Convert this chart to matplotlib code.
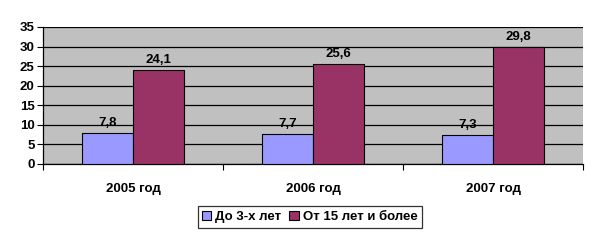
import matplotlib.pyplot as plt
import numpy as np

plt.rcParams['font.family'] = ['Liberation Sans', 'DejaVu Sans']
plt.rcParams['font.weight'] = 'bold'

years = ['2005 год', '2006 год', '2007 год']
under3 = [7.8, 7.7, 7.3]
over15 = [24.1, 25.6, 29.8]
labels = ['До 3-х лет', 'От 15 лет и более']

fs = 9.5

fig = plt.figure(figsize=(5.98, 2.41), dpi=100)
ax = fig.add_axes([0.072, 0.32, 0.903, 0.568])
ax.set_facecolor('#C0C0C0')

x = np.arange(len(years))
w = 0.283
b1 = ax.bar(x - w/2, under3, w, color='#9999FF', edgecolor='black', linewidth=0.8, label=labels[0], zorder=3)
b2 = ax.bar(x + w/2, over15, w, color='#993366', edgecolor='black', linewidth=0.8, label=labels[1], zorder=3)

for bars, vals in [(b1, under3), (b2, over15)]:
    for r, v in zip(bars, vals):
        ax.text(r.get_x() + r.get_width()/2, v + 1.0, str(v).replace('.', ','),
                ha='center', va='bottom', fontsize=fs, fontweight='bold')

ax.set_xlim(-0.5, 2.5)
ax.set_ylim(0, 35)
ax.set_yticks(range(0, 36, 5))
ax.yaxis.grid(True, color='black', linewidth=0.9, zorder=0)
ax.set_axisbelow(True)

ax.set_xticks([-0.5, 0.5, 1.5, 2.5])
ax.set_xticklabels([])
ax.set_xticks(x, minor=True)
ax.set_xticklabels(years, minor=True)
ax.tick_params(axis='x', which='minor', length=0, pad=14, labelsize=fs)
ax.tick_params(axis='x', which='major', length=4, direction='out')
ax.tick_params(axis='y', length=4, labelsize=fs, pad=2)

for s in ['top', 'right']:
    ax.spines[s].set_visible(False)
ax.spines['left'].set_linewidth(0.9)
ax.spines['bottom'].set_linewidth(0.9)

leg = fig.legend(loc='center', bbox_to_anchor=(0.518, 0.1), ncol=2, fontsize=fs,
                 frameon=True, fancybox=False, edgecolor='black', handlelength=0.7,
                 handleheight=0.7, handletextpad=0.3, columnspacing=0.6, borderpad=0.35)
leg.get_frame().set_linewidth(0.9)

fig.savefig('out.png', dpi=100)
